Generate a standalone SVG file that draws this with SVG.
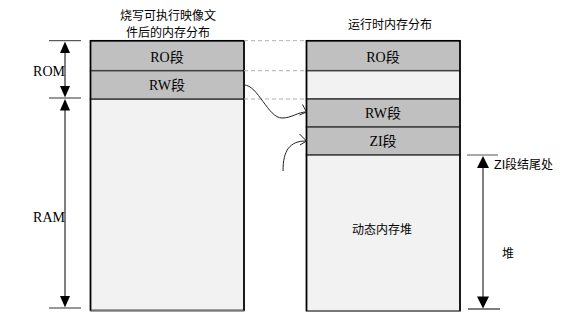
<svg xmlns="http://www.w3.org/2000/svg" width="586" height="335" viewBox="0 0 586 335">
<style>
.seg{fill:#c0c0c0;stroke:#404040;stroke-width:1.5}
.free{fill:#f2f2f2;stroke:#404040;stroke-width:1.5}
.lbl{font-family:"Liberation Serif","Noto Sans CJK SC",serif;font-size:14px;fill:#000;text-anchor:middle}
.cjk{font-family:"Noto Sans CJK SC","Liberation Sans",sans-serif;font-size:12px;fill:#000}
.dash{stroke:#b0b0b0;stroke-width:1;stroke-dasharray:4,3;fill:none}
.tick{stroke:#333;stroke-width:1}
.curve{stroke:#222;stroke-width:1;fill:none}
.tri{fill:#000}
</style>
<rect width="586" height="335" fill="#fff"/>
<g id="title-left">
<text class="cjk" x="168" y="19.5" text-anchor="middle">烧写可执行映像文</text>
<text class="cjk" x="168" y="36.5" text-anchor="middle">件后的内存分布</text>
</g>
<g id="title-right">
<text class="cjk" x="390" y="28.5" text-anchor="middle">运行时内存分布</text>
</g>
<g id="left-ram">
<rect class="free" x="90.5" y="99" width="153.5" height="211.5"/>
<line x1="90.5" y1="310.5" x2="244" y2="310.5" stroke="#777" stroke-width="2"/>
</g>
<g id="left-ro">
<rect class="seg" x="90.5" y="40.7" width="153.5" height="30"/>
<text class="lbl" x="167" y="62">RO段</text>
</g>
<g id="left-rw">
<rect class="seg" x="90.5" y="70.7" width="153.5" height="28.3"/>
<text class="lbl" x="167" y="90">RW段</text>
</g>
<g id="right-ro">
<rect class="seg" x="306.5" y="40.7" width="153.5" height="30"/>
<text class="lbl" x="383" y="62">RO段</text>
</g>
<g id="right-gap">
<rect class="free" x="306.5" y="70.7" width="153.5" height="28.3"/>
</g>
<g id="right-rw">
<rect class="seg" x="306.5" y="99" width="153.5" height="28"/>
<text class="lbl" x="383" y="118">RW段</text>
</g>
<g id="right-zi">
<rect class="seg" x="306.5" y="127" width="153.5" height="28"/>
<text class="lbl" x="383" y="146">ZI段</text>
</g>
<g id="right-heap">
<rect class="free" x="306.5" y="155" width="153.5" height="156"/>
<line x1="306.5" y1="311" x2="460" y2="311" stroke="#777" stroke-width="2"/>
<text class="cjk" x="382" y="233.5" text-anchor="middle">动态内存堆</text>
</g>
<g id="borders" fill="none" stroke="#000" stroke-width="1.5">
<polyline points="90.5,310.5 90.5,40.7 244,40.7 244,310.5"/>
<polyline points="306.5,311 306.5,40.7 460,40.7 460,311"/>
</g>
<g id="connectors">
<line class="dash" x1="244" y1="40.7" x2="306" y2="40.7"/>
<line class="dash" x1="244" y1="70.7" x2="306" y2="70.7"/>
<line class="dash" x1="244" y1="99" x2="306" y2="99"/>
<path class="curve" d="M244,85 C258,85 268,118 282,118 C292,118 298,112 306,112"/>
<polyline class="curve" points="302.5,104.5 306.5,112 299.5,115"/>
<path class="curve" d="M283,171 C283,150 290,141 306,141"/>
<polyline class="curve" points="299.5,134 306.5,141 300,145"/>
<line class="tick" x1="49" y1="40.7" x2="81" y2="40.7"/>
<line class="tick" x1="49" y1="98" x2="81" y2="98"/>
<line class="tick" x1="49" y1="308" x2="81" y2="308"/>
<line x1="65" y1="45" x2="65" y2="94" stroke="#000" stroke-width="1"/>
<polygon class="tri" points="65,41.5 60,53 70,53"/>
<polygon class="tri" points="65,97.5 60,86 70,86"/>
<line x1="65" y1="104" x2="65" y2="304" stroke="#000" stroke-width="1"/>
<polygon class="tri" points="65,99 60,110.5 70,110.5"/>
<polygon class="tri" points="65,307.5 60,296 70,296"/>
<line x1="467" y1="155" x2="498" y2="155" stroke="#555" stroke-width="1"/>
<line x1="468" y1="309" x2="500" y2="309" stroke="#000" stroke-width="1"/>
<line x1="483" y1="162" x2="483" y2="302" stroke="#808080" stroke-width="2"/>
<polygon class="tri" points="483,156 477,168 489,168"/>
<polygon class="tri" points="483,308.5 477,296.5 489,296.5"/>
</g>
<g id="labels">
<text class="lbl" x="49" y="76">ROM</text>
<text class="lbl" x="49" y="222">RAM</text>
<text x="494" y="168.5" font-family="Liberation Sans,Noto Sans CJK SC,sans-serif" font-size="12.5px">ZI<tspan font-family="Noto Sans CJK SC,sans-serif" font-size="12px">段结尾处</tspan></text>
<text class="cjk" x="502" y="258">堆</text>
</g>
</svg>
